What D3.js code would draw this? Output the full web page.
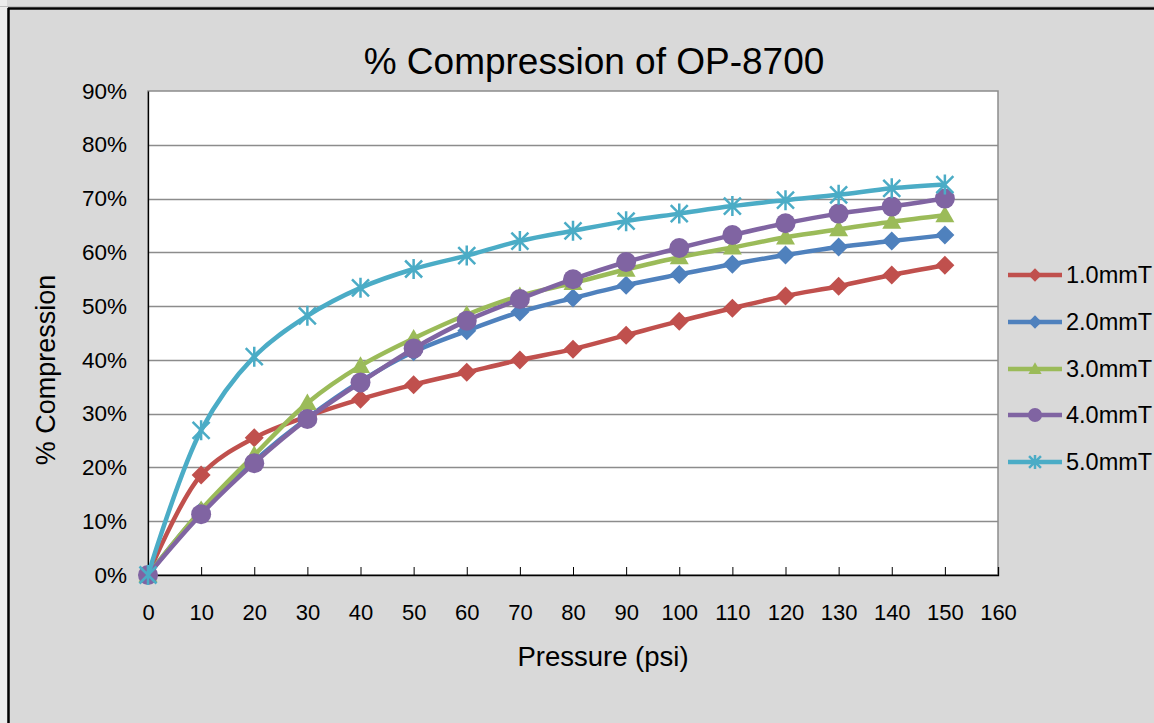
<!DOCTYPE html>
<html><head><meta charset="utf-8">
<script src="https://cdn.jsdelivr.net/npm/d3@7"></script>
<style>html,body{margin:0;padding:0;background:#d9d9d9;overflow:hidden}svg{display:block}text{font-family:"Liberation Sans",Arial,sans-serif;fill:#000}</style>
</head><body>
<svg id="c" width="1154" height="723"></svg>
<script>
const pressure = [0,10,20,30,40,50,60,70,80,90,100,110,120,130,140,150];
const s1 = [0,18.6,25.5,29.5,32.7,35.4,37.7,40.0,42.0,44.6,47.2,49.6,51.9,53.7,55.8,57.6];
const s2 = [0,11.9,21.2,29.2,36.0,41.5,45.4,48.9,51.5,53.9,55.9,57.8,59.5,61.0,62.1,63.2];
const s3 = [0,12.1,22.3,32.0,38.9,44.0,48.4,51.9,54.3,56.8,59.1,60.9,62.8,64.3,65.7,66.9];
const s4 = [0,11.3,20.8,29.0,35.8,42.1,47.3,51.3,55.0,58.2,60.8,63.2,65.4,67.2,68.5,70.0];
const s5 = [0,26.9,40.6,48.2,53.4,56.9,59.4,62.1,64.0,65.8,67.2,68.6,69.7,70.7,71.9,72.6];
const seriesNames = ["1.0mmT","2.0mmT","3.0mmT","4.0mmT","5.0mmT"];
const seriesColors = ["#C0504D","#4F81BD","#9BBB59","#8064A2","#4BACC6"];
const seriesMarkers = ["diamond","diamond","triangle","circle","star"];
const xTicks = d3.range(0,161,10);
const yTicks = d3.range(0,91,10);

const svg = d3.select("#c");
// outer frame
svg.append("rect").attr("x",0).attr("y",0).attr("width",1154).attr("height",723).attr("fill","#d9d9d9");
svg.append("rect").attr("x",0).attr("y",0).attr("width",7).attr("height",723).attr("fill","#ececec");
svg.append("line").attr("x1",0).attr("x2",1154).attr("y1",6.5).attr("y2",6.5).attr("stroke","#bdbdbd").attr("stroke-width",1);
svg.append("line").attr("x1",8).attr("x2",1154).attr("y1",8.5).attr("y2",8.5).attr("stroke","#000").attr("stroke-width",2.5);
svg.append("line").attr("x1",8.5).attr("x2",8.5).attr("y1",8).attr("y2",723).attr("stroke","#000").attr("stroke-width",2.5);

const L=148,R=998,T=91,B=575;
const x = d3.scaleLinear().domain([0,160]).range([L,R]);
const y = d3.scaleLinear().domain([0,90]).range([B,T]);

svg.append("rect").attr("x",L).attr("y",T).attr("width",R-L).attr("height",B-T).attr("fill","#fff").attr("stroke","#8c8c8c").attr("stroke-width",1.5);
// gridlines
svg.append("g").selectAll("line").data(yTicks.filter(d=>d>0&&d<90)).join("line")
  .attr("x1",L).attr("x2",R).attr("y1",d=>Math.round(y(d))+0.5).attr("y2",d=>Math.round(y(d))+0.5)
  .attr("stroke","#8c8c8c").attr("stroke-width",1.3);
// x axis
const xAxis = d3.axisBottom(x).tickValues(xTicks).tickSize(-8).tickPadding(29).tickFormat(d3.format("d"));
const gx = svg.append("g").attr("transform",`translate(0,${B})`).call(xAxis);
gx.select(".domain").attr("stroke","#000").attr("stroke-width",1.3);
gx.selectAll(".tick line").attr("stroke","#000");
gx.selectAll("text").attr("font-size",22).attr("font-family","Liberation Sans, Arial, sans-serif").attr("fill","#000").attr("dy","0.32em").attr("y",38);
// y axis
const yAxis = d3.axisLeft(y).tickValues(yTicks).tickSize(0).tickPadding(21).tickFormat(d=>d+"%");
const gy = svg.append("g").attr("transform",`translate(${L},0)`).call(yAxis);
gy.select(".domain").attr("stroke","#000").attr("stroke-width",1.3);
gy.selectAll("text").attr("font-size",22.5).attr("font-family","Liberation Sans, Arial, sans-serif").attr("fill","#000");

// title & labels
svg.append("text").attr("x",594).attr("y",74).attr("text-anchor","middle").attr("font-size",37).text("% Compression of OP-8700");
svg.append("text").attr("x",603).attr("y",666).attr("text-anchor","middle").attr("font-size",27.5).text("Pressure (psi)");
svg.append("text").attr("transform","translate(55,370) rotate(-90)").attr("text-anchor","middle").attr("font-size",27).text("% Compression");

const allSeries = [s1,s2,s3,s4,s5];
const line = d3.line().x((d,i)=>x(pressure[i])).y(d=>y(d)).curve(d3.curveCatmullRom.alpha(0.5));

function marker(g,type,color,cx,cy,scale){
  scale = scale||1;
  if(type==="diamond"){
    const r=9.5*scale;
    g.append("path").attr("d",`M${cx},${cy-r}L${cx+r},${cy}L${cx},${cy+r}L${cx-r},${cy}Z`).attr("fill",color);
  } else if(type==="triangle"){
    const r=9.5*scale;
    g.append("path").attr("d",`M${cx},${cy-r}L${cx+r},${cy+r*0.75}L${cx-r},${cy+r*0.75}Z`).attr("fill",color);
  } else if(type==="circle"){
    g.append("circle").attr("cx",cx).attr("cy",cy).attr("r",10*scale).attr("fill",color);
  } else {
    const r=10*scale;
    g.append("path").attr("d",`M${cx-r*0.85},${cy-r*0.85}L${cx+r*0.85},${cy+r*0.85}M${cx-r*0.85},${cy+r*0.85}L${cx+r*0.85},${cy-r*0.85}M${cx},${cy-r}L${cx},${cy+r}`)
      .attr("stroke",color).attr("stroke-width",2.5).attr("fill","none");
  }
}

allSeries.forEach((s,k)=>{
  const g = svg.append("g");
  g.append("path").datum(s).attr("d",line).attr("fill","none").attr("stroke",seriesColors[k]).attr("stroke-width",4.5).attr("stroke-linejoin","round");
  s.forEach((v,i)=>marker(g,seriesMarkers[k],seriesColors[k],x(pressure[i]),y(v)));
});

// legend
const legY = [275,322,369,415,462];
seriesNames.forEach((n,k)=>{
  const g = svg.append("g");
  g.append("line").attr("x1",1008).attr("x2",1062).attr("y1",legY[k]).attr("y2",legY[k]).attr("stroke",seriesColors[k]).attr("stroke-width",4.5);
  marker(g,seriesMarkers[k],seriesColors[k],1035,legY[k],0.7);
  g.append("text").attr("x",1066).attr("y",legY[k]+8).attr("font-size",23.5).text(n);
});
</script>
</body></html>
